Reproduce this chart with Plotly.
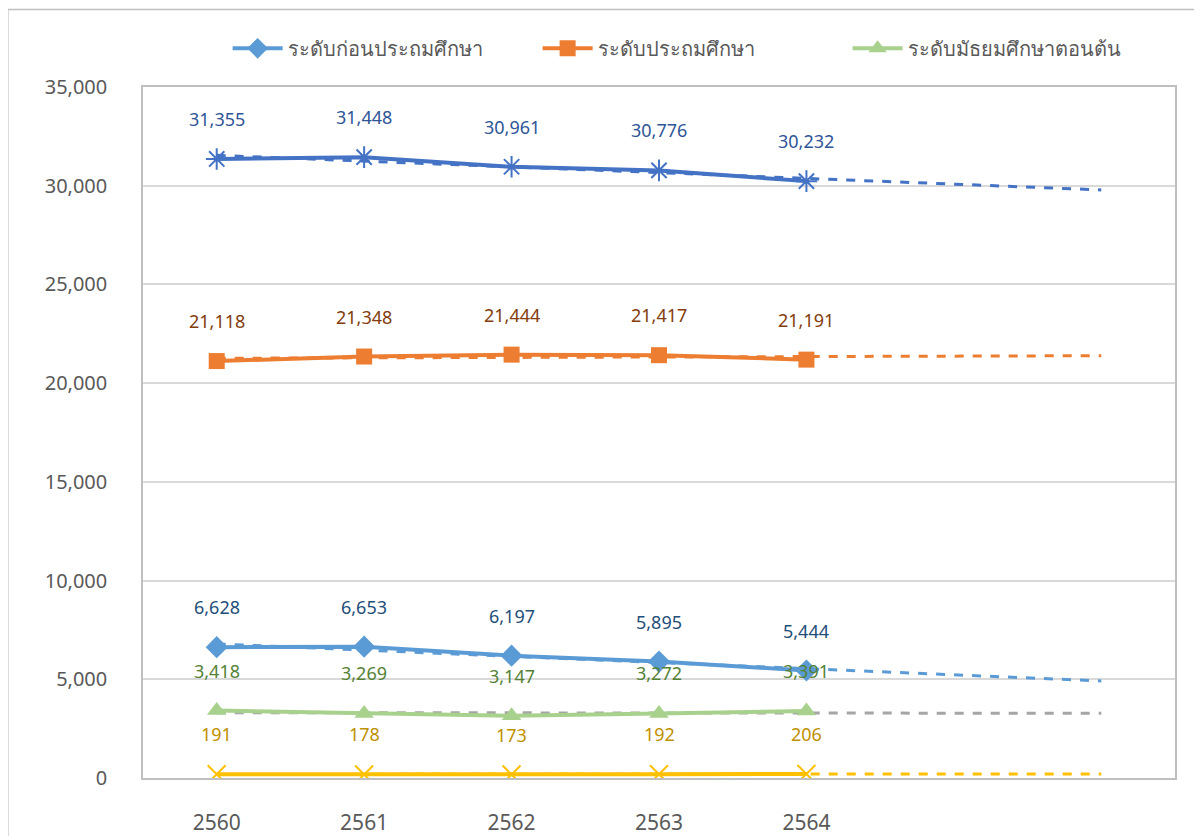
import numpy as np
import plotly.graph_objects as go

years = [2560, 2561, 2562, 2563, 2564]
trend_end = 2566
tick_labels = ["2560", "2561", "2562", "2563", "2564"]

total = [31355, 31448, 30961, 30776, 30232]
pre_primary = [6628, 6653, 6197, 5895, 5444]
primary = [21118, 21348, 21444, 21417, 21191]
lower_secondary = [3418, 3269, 3147, 3272, 3391]
other = [191, 178, 173, 192, 206]

series = [
    # name, values, line colour, marker, marker size, label colour, trend colour, legend
    ("รวม", total, "#4472C4", "asterisk-open", 18, "#2F5597", "#4472C4", False),
    ("ระดับก่อนประถมศึกษา", pre_primary, "#5B9BD5", "diamond", 17, "#1F4E79", "#5B9BD5", True),
    ("ระดับประถมศึกษา", primary, "#ED7D31", "square", 16, "#843C0C", "#ED7D31", True),
    ("ระดับมัธยมศึกษาตอนต้น", lower_secondary, "#A9D18E", "triangle-up", 17, "#548235", "#A5A5A5", True),
    ("อื่น ๆ", other, "#FFC000", "x-thin-open", 18, "#BF9000", "#FFC000", False),
]

FONT = "Noto Sans, DejaVu Sans, sans-serif"
fig = go.Figure()

# trend lines first (underneath)
for name, vals, col, sym, ms, lcol, tcol, leg in series:
    k, b = np.polyfit(np.array(years, float), np.array(vals, float), 1)
    tx = [years[0], trend_end]
    ty = [k * x + b for x in tx]
    fig.add_trace(go.Scatter(x=tx, y=ty, mode="lines", showlegend=False,
                             line=dict(color=tcol, width=3, dash="dash"),
                             hoverinfo="skip"))

order = [0, 2, 1, 3, 4]
for i in order:
    name, vals, col, sym, ms, lcol, tcol, leg = series[i]
    mline = dict(color=col, width=2) if "open" in sym else dict(width=0)
    fig.add_trace(go.Scatter(x=years, y=vals, mode="lines+markers", name=name,
                             showlegend=leg, legendrank=i,
                             line=dict(color=col, width=4),
                             marker=dict(symbol=sym, size=ms, color=col, line=mline)))
    for x, v in zip(years, vals):
        fig.add_annotation(x=x, y=v, text=f"{v:,}", showarrow=False, yshift=40,
                           font=dict(family=FONT, size=18, color=lcol))

fig.add_shape(type="rect", xref="paper", yref="paper", x0=-0.131, x1=1.2, y0=-0.3, y1=1.112,
              line=dict(color="#BFBFBF", width=1.5), layer="below")

fig.update_layout(
    width=1202, height=836,
    margin=dict(l=135, r=35, t=79, b=66, autoexpand=False),
    paper_bgcolor="white", plot_bgcolor="white",
    font=dict(family=FONT, color="#595959"),
    legend=dict(orientation="h", x=0.082, y=1.056, xanchor="left", yanchor="middle",
                font=dict(size=20, color="#595959"), itemwidth=50,
                entrywidth=245, entrywidthmode="pixels",
                bgcolor="rgba(0,0,0,0)", traceorder="normal"),
    showlegend=True,
)
fig.update_xaxes(range=[2559.5, 2566.5], tickvals=years, ticktext=tick_labels,
                 showgrid=False, zeroline=False, showline=True, linecolor="#BFBFBF",
                 linewidth=2, mirror=True, ticks="", ticklabelstandoff=25,
                 tickfont=dict(size=21, color="#595959"))
fig.update_yaxes(range=[0, 35000], tickvals=list(range(0, 35001, 5000)), tickformat=",",
                 showgrid=True, gridcolor="#D9D9D9", gridwidth=1.5, zeroline=False,
                 showline=True, linecolor="#BFBFBF", linewidth=1.5, mirror=True,
                 ticks="", ticklabelstandoff=30,
                 tickfont=dict(size=20, color="#595959"))

fig.write_html("out.html")
